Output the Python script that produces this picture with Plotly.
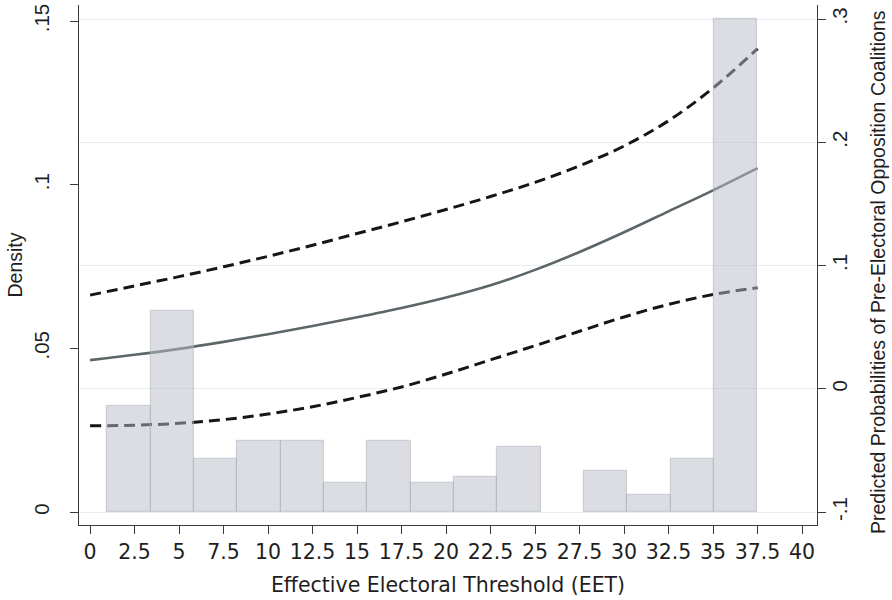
import plotly.graph_objects as go

# Histogram (density) of Effective Electoral Threshold (None = empty bin)
bin_start = 0.97
bin_width = 2.435
densities = [0.0325, 0.0615, 0.0162, 0.0216, 0.0216, 0.0088, 0.0216, 0.0089,
             0.0107, 0.0198, None, 0.0125, 0.0053, 0.0162, 0.1506]

# Predicted probabilities with confidence bounds
eet = [0, 2.5, 5, 7.5, 10, 12.5, 15, 17.5, 20, 22.5, 25, 27.5, 30, 32.5, 35, 37.5]
pred = [0.0233, 0.0276, 0.0324, 0.0381, 0.0443, 0.0510, 0.0580, 0.0655, 0.0740, 0.0840,
        0.0965, 0.111, 0.127, 0.144, 0.161, 0.179]
upper = [0.076, 0.0835, 0.091, 0.099, 0.1075, 0.1165, 0.126, 0.1355, 0.1455, 0.156,
         0.1675, 0.181, 0.197, 0.2175, 0.244, 0.276]
lower = [-0.030, -0.0295, -0.028, -0.025, -0.0205, -0.0145, -0.007, 0.0015, 0.012,
         0.0235, 0.035, 0.0467, 0.0583, 0.0685, 0.0765, 0.082]

x_ticks = [0, 2.5, 5, 7.5, 10, 12.5, 15, 17.5, 20, 22.5, 25, 27.5, 30, 32.5, 35, 37.5, 40]
x_ticktext = ["0", "2.5", "5", "7.5", "10", "12.5", "15", "17.5", "20", "22.5", "25",
              "27.5", "30", "32.5", "35", "37.5", "40"]
dens_ticks = [0, 0.05, 0.1, 0.15]
dens_ticktext = ["0", ".05", ".1", ".15"]
prob_ticks = [-0.1, 0, 0.1, 0.2, 0.3]
prob_ticktext = ["-.1", "0", ".1", ".2", ".3"]

x_title = "Effective Electoral Threshold (EET)"
left_title = "Density"
right_title = "Predicted Probabilities of Pre-Electoral Opposition Coalitions"

centers = [bin_start + bin_width * (i + 0.5) for i in range(len(densities))]

FONT_X = "DejaVu Sans, Verdana, sans-serif"
FONT_Y = "Liberation Sans, Arial, Helvetica, sans-serif"
TXT = "#1e1e1e"
AX = "#3a3a3a"

fig = go.Figure()

fig.add_trace(go.Scatter(x=eet, y=upper, mode="lines", yaxis="y",
                         line=dict(color="#161616", width=3, dash="11px,6px", shape="spline"),
                         hoverinfo="skip"))
fig.add_trace(go.Scatter(x=eet, y=pred, mode="lines", yaxis="y",
                         line=dict(color="#5c6669", width=2.6, shape="spline"),
                         hoverinfo="skip"))
fig.add_trace(go.Scatter(x=eet, y=lower, mode="lines", yaxis="y",
                         line=dict(color="#161616", width=3, dash="11px,6px", shape="spline"),
                         hoverinfo="skip"))

fig.add_trace(go.Bar(x=centers, y=densities, width=[bin_width] * len(densities), yaxis="y2",
                     marker=dict(color="rgba(185,188,198,0.5)",
                                 line=dict(color="rgba(170,174,184,0.5)", width=1.2)),
                     hoverinfo="skip"))

fig.update_layout(
    width=892, height=600,
    margin=dict(l=79, r=75, t=5, b=75, autoexpand=False),
    paper_bgcolor="white", plot_bgcolor="white",
    showlegend=False,
    font=dict(family=FONT_Y, size=20, color=TXT),
    bargap=0,
    xaxis=dict(range=[-0.62, 40.84], tickvals=x_ticks, ticktext=x_ticktext,
               showgrid=False, zeroline=False, showline=True, linecolor=AX, linewidth=1.2,
               ticks="outside", ticklen=8, tickcolor=AX, tickwidth=1.2, automargin=False,
               tickfont=dict(family=FONT_X, size=20.5, color=TXT),
               title=dict(text=x_title,
                          font=dict(family=FONT_X, size=20.5, color=TXT), standoff=14)),
    yaxis=dict(side="right", range=[-0.1105, 0.3114], tickvals=prob_ticks, ticktext=prob_ticktext,
               showgrid=True, gridcolor="#e8edf1", gridwidth=1, zeroline=False,
               showline=True, linecolor=AX, linewidth=1.2, automargin=False,
               ticks="outside", ticklen=8, tickcolor=AX, tickwidth=1.2, tickangle=-90,
               tickfont=dict(family=FONT_Y, size=20.5, color=TXT), ticklabelstandoff=-4),
    yaxis2=dict(overlaying="y", side="left", range=[-0.00397, 0.1549],
                tickvals=dens_ticks, ticktext=dens_ticktext, automargin=False,
                showgrid=False, zeroline=False, showline=True, linecolor=AX, linewidth=1.2,
                ticks="outside", ticklen=8, tickcolor=AX, tickwidth=1.2, tickangle=-90,
                tickfont=dict(family=FONT_Y, size=20.5, color=TXT), ticklabelstandoff=13,
                title=dict(text=left_title, font=dict(family=FONT_Y, size=19.5, color=TXT),
                           standoff=1)),
    annotations=[dict(text=right_title, textangle=-90, showarrow=False,
                      xref="paper", yref="paper", x=(878 - 79) / 738, y=(525 - 272) / 520,
                      xanchor="center", yanchor="middle",
                      font=dict(family=FONT_Y, size=19.5, color=TXT))],
)

fig.write_html("out.html", config={"displayModeBar": False},
               post_script="document.body.style.margin='0';document.body.style.overflow='hidden';")
